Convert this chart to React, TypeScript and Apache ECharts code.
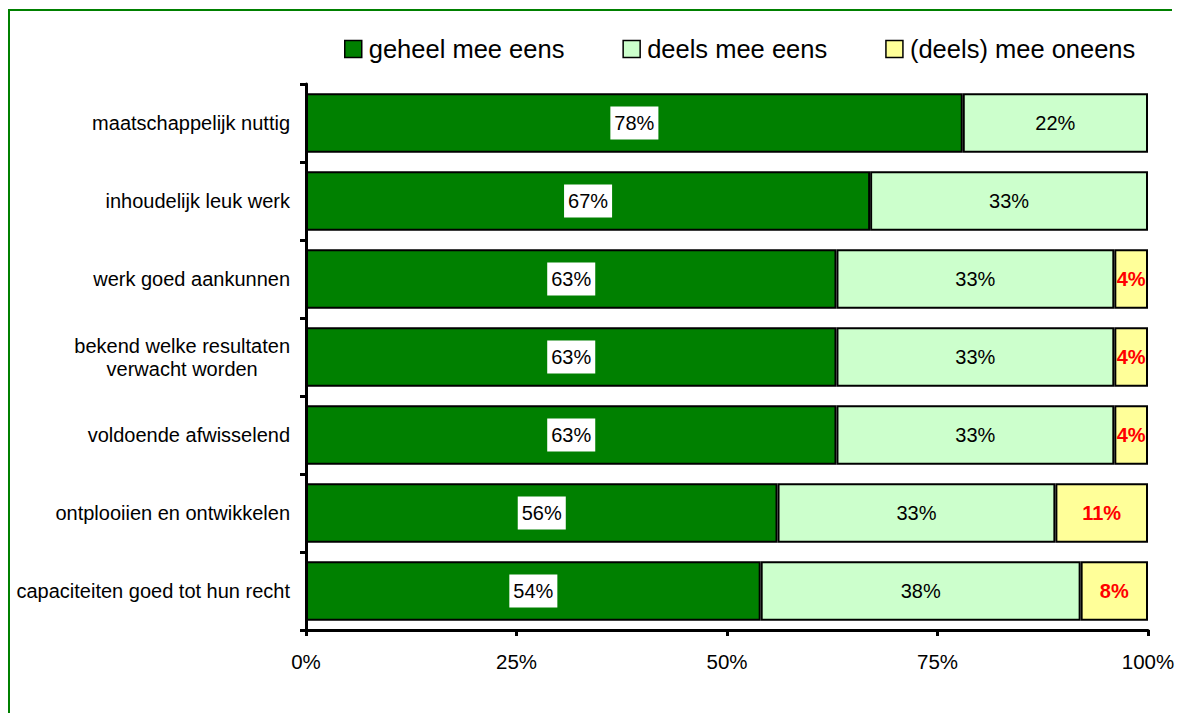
import React, { useEffect, useRef } from "react";
import * as echarts from "echarts";

const categories = [
  "maatschappelijk nuttig",
  "inhoudelijk leuk werk",
  "werk goed aankunnen",
  "bekend welke resultaten\nverwacht worden",
  "voldoende afwisselend",
  "ontplooiien en ontwikkelen",
  "capaciteiten goed tot hun recht",
];
const seriesNames = ["geheel mee eens", "deels mee eens", "(deels) mee oneens"];
const geheel = [78, 67, 63, 63, 63, 56, 54];
const deels = [22, 33, 33, 33, 33, 33, 38];
const oneens = [0, 0, 4, 4, 4, 11, 8];
const xTicks = [0, 25, 50, 75, 100];

const FONT = "'Liberation Sans', Arial, sans-serif";

export default function App() {
  const ref = useRef<HTMLDivElement>(null);
  useEffect(() => {
    document.body.style.margin = "0";
    document.body.style.overflow = "hidden";
    const chart = echarts.init(ref.current!, null, { renderer: "svg" });
    const toData = (arr: number[]) => arr.map((v) => (v === 0 ? "-" : v));
    const baseItem = { borderColor: "#000", borderWidth: 2 };
    chart.setOption({
      animation: false,
      textStyle: { fontFamily: FONT },
      graphic: [
        {
          type: "line",
          shape: { x1: 9, y1: 9, x2: 9, y2: 713 },
          style: { stroke: "#008000", lineWidth: 2 },
          silent: true,
        },
        {
          type: "line",
          shape: { x1: 8, y1: 10, x2: 1172, y2: 10 },
          style: { stroke: "#008000", lineWidth: 2 },
          silent: true,
        },
      ],
      legend: {
        top: 31,
        left: 339,
        itemWidth: 17,
        itemHeight: 17,
        itemGap: 58,
        icon: "rect",
        textStyle: { fontSize: 25.5, color: "#000", fontFamily: FONT, padding: [0, 0, 0, 2] },
        data: seriesNames.map((n) => ({ name: n, itemStyle: { borderColor: "#000", borderWidth: 1.5 } })),
      },
      grid: { left: 306, right: 40, top: 84, bottom: 83, containLabel: false },
      xAxis: {
        type: "value",
        min: xTicks[0],
        max: xTicks[xTicks.length - 1],
        interval: 25,
        splitLine: { show: false },
        axisLine: { show: true, lineStyle: { color: "#000", width: 3 } },
        axisTick: { show: true, length: 6, lineStyle: { color: "#000", width: 3 } },
        axisLabel: { formatter: "{value}%", fontSize: 20.5, color: "#000", margin: 21, fontFamily: FONT },
      },
      yAxis: {
        type: "category",
        inverse: true,
        data: categories,
        axisLine: { show: true, lineStyle: { color: "#000", width: 3 } },
        axisTick: { show: true, length: 6, lineStyle: { color: "#000", width: 3 } },
        axisLabel: {
          margin: 16,
          color: "#000",
          fontSize: 20,
          fontFamily: FONT,
          formatter: (v: string) => v.split("\n").map((l) => `{c|${l}}`).join("\n"),
          rich: { c: { align: "center", fontSize: 20, lineHeight: 23, fontFamily: FONT, color: "#000" } },
        },
      },
      series: [
        {
          name: seriesNames[0],
          type: "bar",
          stack: "s",
          barCategoryGap: "24%",
          data: toData(geheel),
          itemStyle: { ...baseItem, color: "#008000" },
          label: {
            show: true,
            position: "inside",
            formatter: "{c}%",
            color: "#000",
            fontSize: 20,
            fontFamily: FONT,
            backgroundColor: "#fff",
            padding: [7, 4, 6, 4],
          },
        },
        {
          name: seriesNames[1],
          type: "bar",
          stack: "s",
          data: toData(deels),
          itemStyle: { ...baseItem, color: "#CCFFCC" },
          label: { show: true, position: "inside", formatter: "{c}%", color: "#000", fontSize: 20, fontFamily: FONT },
        },
        {
          name: seriesNames[2],
          type: "bar",
          stack: "s",
          data: toData(oneens),
          itemStyle: { ...baseItem, color: "#FFFF99" },
          label: {
            show: true,
            position: "inside",
            formatter: "{c}%",
            color: "#FF0000",
            fontWeight: "bold",
            fontSize: 20,
            fontFamily: FONT,
          },
        },
      ],
    });
    return () => chart.dispose();
  }, []);
  return <div ref={ref} style={{ width: 1188, height: 713 }} />;
}
